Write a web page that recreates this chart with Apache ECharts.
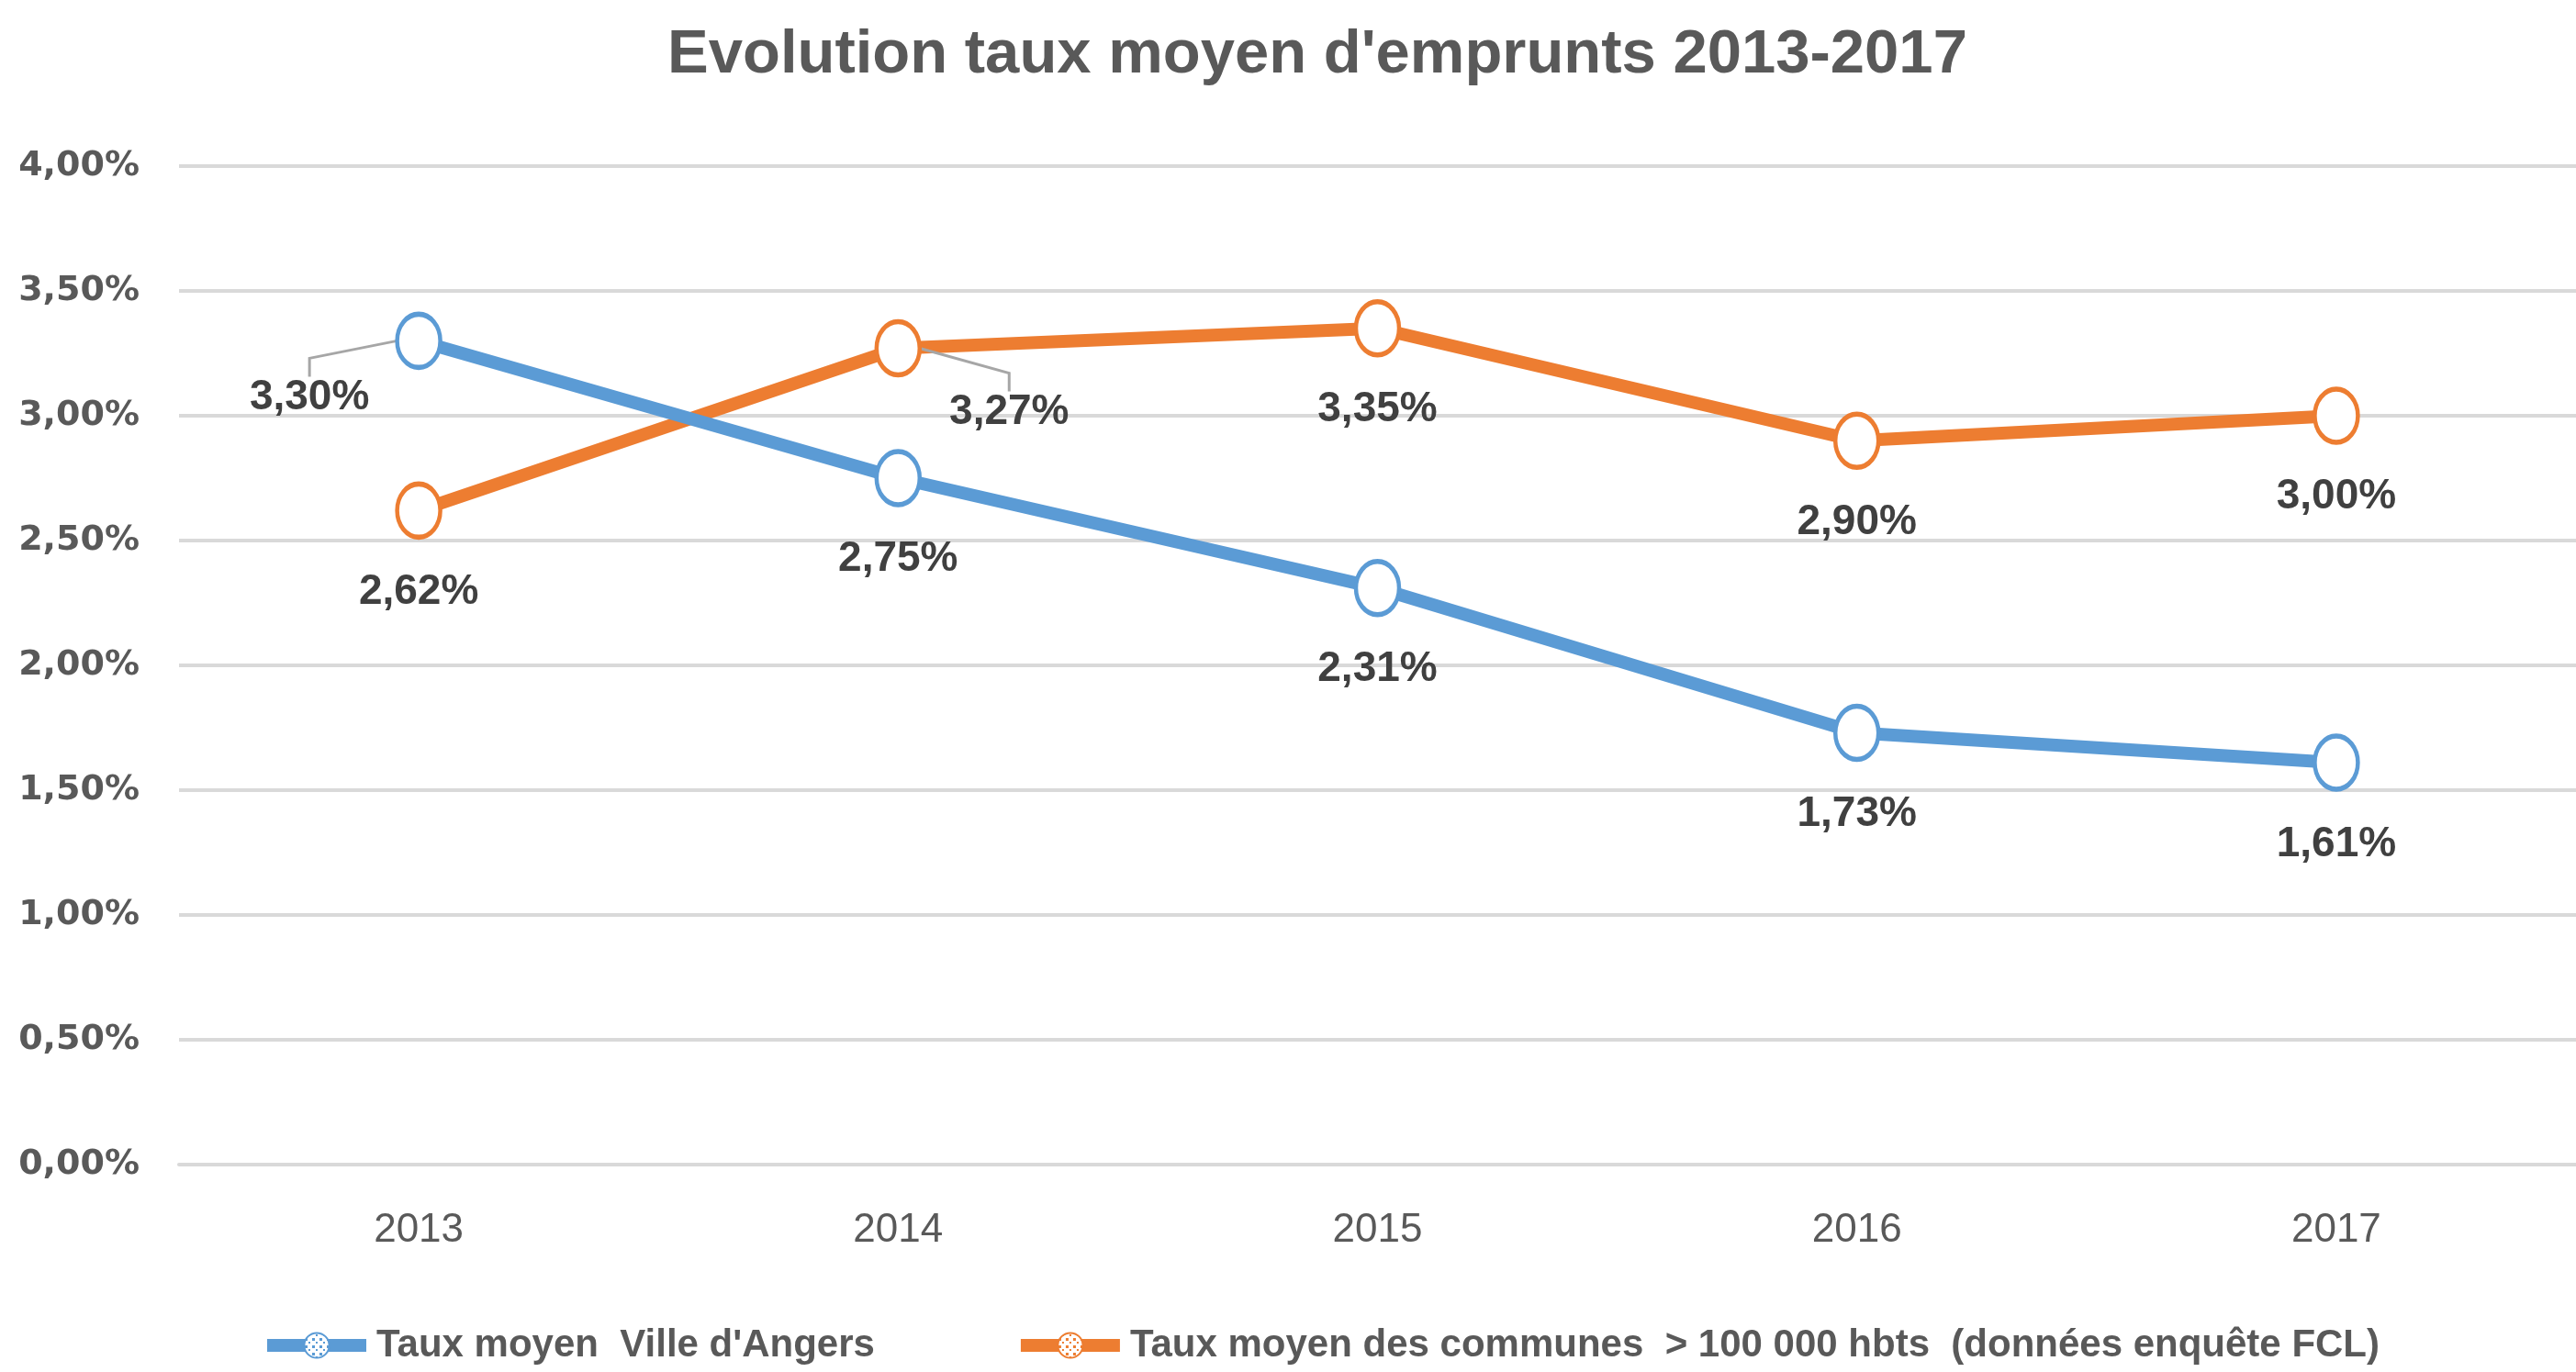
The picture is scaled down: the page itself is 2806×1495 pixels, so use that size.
<!DOCTYPE html>
<html>
<head>
<meta charset="utf-8">
<script src="https://cdn.jsdelivr.net/npm/echarts@6/dist/echarts.min.js"></script>
<style>
html, body { margin: 0; padding: 0; background: #fff; }
#chart { width: 2806px; height: 1495px; }
</style>
</head>
<body>
<div id="chart"></div>
<script>
var years      = ['2013', '2014', '2015', '2016', '2017'];
var tauxAngers = [3.30, 2.75, 2.31, 1.73, 1.61];
var tauxFCL    = [2.62, 3.27, 3.35, 2.90, 3.00];
var nameAngers = "Taux moyen  Ville d'Angers";
var nameFCL    = 'Taux moyen des communes  > 100 000 hbts  (données enquête FCL)';

var BLUE    = '#5B9BD5';
var ORANGE  = '#ED7D31';
var ELLIPSE = 'path://M0,50A50,50,0,1,1,100,50A50,50,0,1,1,0,50Z';

/* Dotted fill like the Excel marker pattern. */
function dotPattern(color)
{
    var c = document.createElement('canvas');
    c.width = 8; c.height = 8;
    var ctx = c.getContext('2d');
    ctx.fillStyle = '#fff';
    ctx.fillRect(0, 0, 8, 8);
    ctx.fillStyle = color;
    ctx.fillRect(1, 1, 3, 3);
    ctx.fillRect(5, 5, 2, 2);
    return {image: c, repeat: 'repeat'};
}

function pct(v)
{
    return v.toFixed(2).replace('.', ',') + '%';
}

var labelStyle =
{
    show: true,
    position: 'bottom',
    distance: 34,
    fontFamily: 'Liberation Sans',
    fontWeight: 'bold',
    fontSize: 46,
    color: '#404040',
    formatter: function(p) { return pct(p.value); }
};

var leader = {show: true, length2: 20, lineStyle: {color: '#A6A6A6', width: 3}};

/* Labels that Excel pulled aside with a leader line (key: series_point). */
var movedLabels = {'0_0': {position: 'left', dx: -24, dy: 62}, '1_1': {position: 'right', dx: 26, dy: 70}};

function buildData(values, seriesIndex)
{
    return values.map(function(v, i)
    {
        var moved = movedLabels[seriesIndex + '_' + i];
        if(moved) return {value: v, label: {position: moved.position, distance: 4}, labelLine: leader};
        return v;
    });
}

function labelLayout(p)
{
    var moved = movedLabels[p.seriesIndex + '_' + p.dataIndex];
    if(!moved) return {};
    return {dx: moved.dx, dy: moved.dy};
}

var chart = echarts.init(document.getElementById('chart'));
chart.setOption({
    animation: false,
    backgroundColor: '#fff',
    title:
    {
        text: "Evolution taux moyen d'emprunts 2013-2017",
        left: 722,
        top: 22,
        textStyle: {fontFamily: 'Liberation Sans', fontWeight: 'bold', fontSize: 67, color: '#595959'}
    },
    legend:
    {
        top: 1440,
        left: 279,
        itemWidth: 108,
        itemHeight: 34,
        itemGap: 152,
        lineStyle: {width: 14},
        textStyle: {fontFamily: 'Liberation Sans', fontWeight: 'bold', fontSize: 42, color: '#595959', padding: [0, 0, 0, 6]},
        data: [nameAngers, nameFCL]
    },
    grid: {left: 195, top: 181, bottom: 226, width: 2629, containLabel: false},
    xAxis:
    {
        type: 'category',
        data: years,
        boundaryGap: true,
        axisLine: {lineStyle: {color: '#D9D9D9', width: 4}},
        axisTick: {show: false},
        axisLabel: {margin: 50, fontFamily: 'Liberation Sans', fontSize: 44, color: '#595959'}
    },
    yAxis:
    {
        type: 'value',
        min: 0,
        max: 4,
        interval: 0.5,
        axisLine: {show: false},
        axisTick: {show: false},
        splitLine: {lineStyle: {color: '#D9D9D9', width: 4}},
        axisLabel: {margin: 43, fontFamily: 'DejaVu Sans', fontWeight: 'bold', fontSize: 38, color: '#595959', formatter: pct}
    },
    series:
    [
        {
            name: nameAngers,
            type: 'line',
            data: buildData(tauxAngers, 0),
            symbol: ELLIPSE,
            symbolSize: [47, 58],
            lineStyle: {color: BLUE, width: 14},
            itemStyle: {color: dotPattern(BLUE), borderColor: BLUE, borderWidth: 5},
            label: labelStyle,
            labelLayout: labelLayout,
            z: 3
        },
        {
            name: nameFCL,
            type: 'line',
            data: buildData(tauxFCL, 1),
            symbol: ELLIPSE,
            symbolSize: [47, 58],
            lineStyle: {color: ORANGE, width: 14},
            itemStyle: {color: dotPattern(ORANGE), borderColor: ORANGE, borderWidth: 5},
            label: labelStyle,
            labelLayout: labelLayout,
            z: 2
        }
    ]
});
</script>
</body>
</html>
